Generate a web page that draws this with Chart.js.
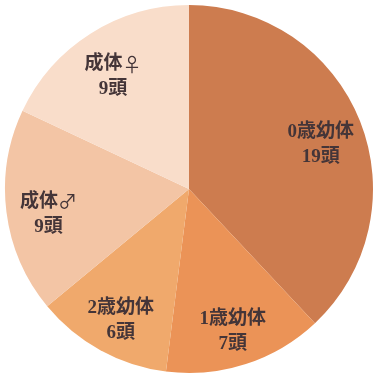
<!DOCTYPE html>
<html>
<head>
    <meta charset="utf-8">
    <title>個体構成</title>
    <script src="https://cdn.jsdelivr.net/npm/chart.js"></script>
    <style>
        html, body {
            margin: 0;
            padding: 0;
            background: #fff;
        }
        .chart-container {
            width: 375px;
            height: 378px;
        }
    </style>
</head>
<body>
    <div class="chart-container">
        <canvas id="ageChart"></canvas>
    </div>

    <script>
        // 区分と頭数
        const groups = ['0歳幼体', '1歳幼体', '2歳幼体', '成体♂', '成体♀'];
        const counts = [19, 7, 6, 9, 9];
        const unit = '頭';

        const sliceColors = ['#cd7c4f', '#eb9357', '#f0a96c', '#f3c5a5', '#f9ddca'];

        const serifFont = 'bold 19px "Liberation Serif", "Noto Sans CJK JP", serif';
        const symbolFont = '19px "Noto Sans CJK JP", sans-serif';

        // ♂♀だけ全角の字形で描き、残りは明朝風のフォントで描く
        function drawMixed(ctx, text, cx, cy) {
            const runs = [];
            for (const ch of text) {
                const font = (ch === '♂' || ch === '♀') ? symbolFont : serifFont;
                const last = runs[runs.length - 1];
                if (last && last.font === font) last.text += ch;
                else runs.push({ font, text: ch });
            }
            let total = 0;
            runs.forEach(r => {
                ctx.font = r.font;
                r.width = ctx.measureText(r.text).width;
                total += r.width;
            });
            let x = cx - total / 2;
            ctx.textAlign = 'left';
            runs.forEach(r => {
                ctx.font = r.font;
                ctx.fillText(r.text, x, cy);
                x += r.width;
            });
        }

        // 扇形の中にラベルを2行で描く
        const sliceLabels = {
            id: 'sliceLabels',
            afterDatasetsDraw(chart) {
                const ctx = chart.ctx;
                const arcs = chart.getDatasetMeta(0).data;
                ctx.save();
                ctx.fillStyle = '#443538';
                ctx.textBaseline = 'middle';
                arcs.forEach((arc, i) => {
                    const p = arc.getProps(['x', 'y', 'startAngle', 'endAngle', 'outerRadius'], true);
                    const mid = (p.startAngle + p.endAngle) / 2;
                    const r = p.outerRadius * 0.77;
                    const cx = p.x + Math.cos(mid) * r;
                    const cy = p.y + Math.sin(mid) * r;
                    drawMixed(ctx, groups[i], cx, cy - 5);
                    drawMixed(ctx, counts[i] + unit, cx, cy + 20);
                });
                ctx.restore();
            }
        };

        new Chart(document.getElementById('ageChart'), {
            type: 'pie',
            data: {
                labels: groups,
                datasets: [{
                    data: counts,
                    backgroundColor: sliceColors,
                    borderWidth: 0
                }]
            },
            options: {
                responsive: true,
                maintainAspectRatio: false,
                animation: false,
                layout: {
                    padding: { left: 5, right: 2, top: 5, bottom: 5 }
                },
                plugins: {
                    legend: { display: false },
                    tooltip: { enabled: false }
                }
            },
            plugins: [sliceLabels]
        });
    </script>
</body>
</html>
